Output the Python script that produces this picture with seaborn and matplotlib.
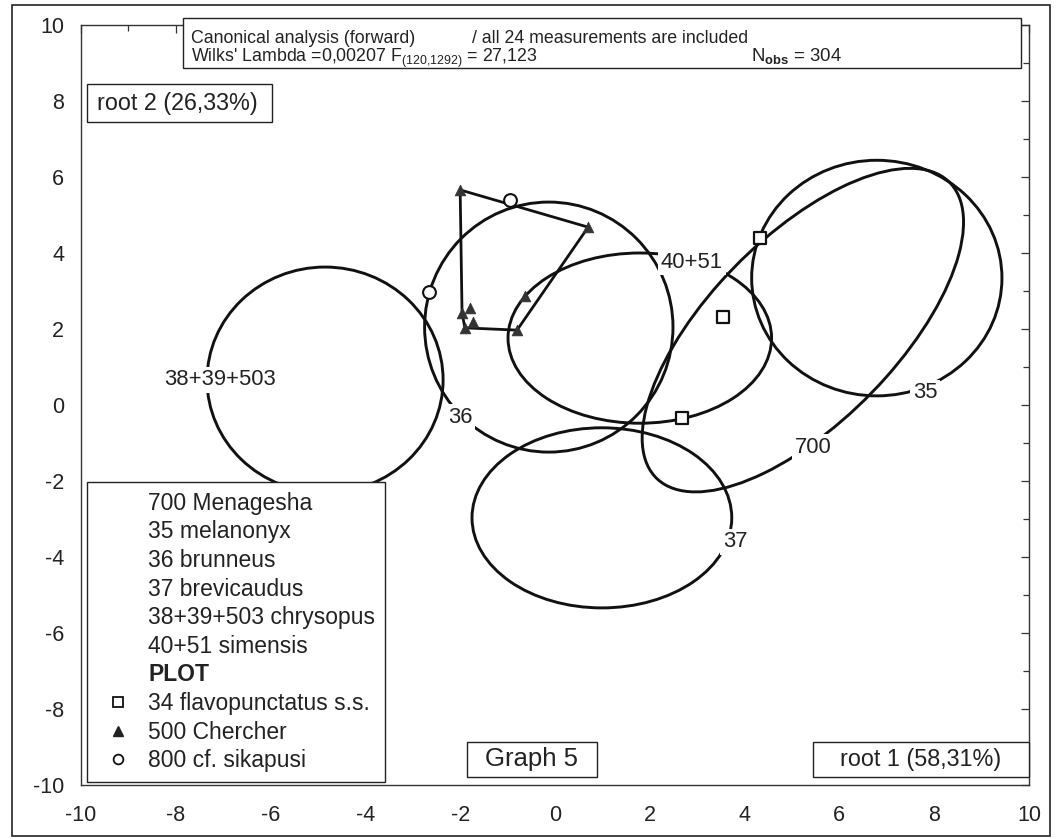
import numpy as np
import pandas as pd
import seaborn as sns
import matplotlib
matplotlib.use("Agg")
import matplotlib.pyplot as plt
from matplotlib.patches import Ellipse, Rectangle
from matplotlib.lines import Line2D
from matplotlib.ticker import MultipleLocator
from matplotlib import font_manager

# ---- data -------------------------------------------------------------
group_labels = ["700", "35", "36", "37", "38+39+503", "40+51"]
group_names = ["700 Menagesha", "35 melanonyx", "36 brunneus", "37 brevicaudus",
               "38+39+503 chrysopus", "40+51 simensis"]
ell_cx = [5.23, 6.79, -0.13, 0.99, -4.85, 1.79]
ell_cy = [1.97, 3.34, 2.05, -2.97, 0.66, 1.76]
ell_width = [10.0, 5.28, 5.24, 5.48, 4.98, 5.56]
ell_height = [4.3, 6.2, 6.58, 4.74, 5.94, 4.48]
ell_angle = [54.5, 0.0, 0.0, 0.0, 0.0, 0.0]
label_x = [5.45, 7.81, -2.0, 3.8, -7.07, 2.89]
label_y = [-1.12, 0.32, -0.32, -3.6, 0.66, 3.76]

flavo_x = [4.32, 3.54, 2.68]
flavo_y = [4.39, 2.32, -0.34]
chercher_x = [-2.0, 0.70, -0.80, -1.90, -1.73, -1.79, -1.96, -0.64]
chercher_y = [5.66, 4.68, 1.97, 2.03, 2.18, 2.55, 2.42, 2.87]
sika_x = [-0.95, -2.66]
sika_y = [5.39, 2.97]

plot_names = ["34 flavopunctatus s.s.", "500 Chercher", "800 cf. sikapusi"]
tick_values = list(range(-10, 11, 2))

# ---- style ------------------------------------------------------------
sns.set_style("white")
available = {f.name for f in font_manager.fontManager.ttflist}
BASE = "Liberation Sans"
NARROW = "Liberation Sans Narrow" if "Liberation Sans Narrow" in available else BASE
title_fs = 13.4 if NARROW != BASE else 12.8
plt.rcParams["font.family"] = [BASE, "DejaVu Sans"]
plt.rcParams["axes.unicode_minus"] = False
plt.rcParams["mathtext.fontset"] = "custom"
plt.rcParams["mathtext.rm"] = NARROW
plt.rcParams["mathtext.bf"] = NARROW + ":bold"

INK = "#111111"
TXT = "#222222"

fig = plt.figure(figsize=(10.61, 8.39), dpi=100)
ax = fig.add_axes([0.0763, 0.0644, 0.8935, 0.9058])

# ---- group ellipses with labels ---------------------------------------
for cx, cy, w, h, a in zip(ell_cx, ell_cy, ell_width, ell_height, ell_angle):
    ax.add_patch(Ellipse((cx, cy), w, h, angle=a, fill=False, ec=INK, lw=2.1, zorder=2))
for lx, ly, t in zip(label_x, label_y, group_labels):
    ax.text(lx, ly, t, ha="center", va="center", fontsize=15.8, color=TXT, zorder=4,
            bbox=dict(boxstyle="square,pad=0.12", fc="white", ec="none"))

# ---- convex hull of the Chercher sample ------------------------------
pts = sorted(set(zip(chercher_x, chercher_y)))
def _cross(o, a, b):
    return (a[0] - o[0]) * (b[1] - o[1]) - (a[1] - o[1]) * (b[0] - o[0])
lower, upper = [], []
for p in pts:
    while len(lower) >= 2 and _cross(lower[-2], lower[-1], p) <= 0:
        lower.pop()
    lower.append(p)
for p in reversed(pts):
    while len(upper) >= 2 and _cross(upper[-2], upper[-1], p) <= 0:
        upper.pop()
    upper.append(p)
hull = lower[:-1] + upper[:-1]
hull.append(hull[0])
hx, hy = zip(*hull)
ax.plot(hx, hy, color=INK, lw=2.0, zorder=3)

# ---- individual specimens --------------------------------------------
df_f = pd.DataFrame({"x": flavo_x, "y": flavo_y})
df_c = pd.DataFrame({"x": chercher_x, "y": chercher_y})
df_s = pd.DataFrame({"x": sika_x, "y": sika_y})
sns.scatterplot(data=df_f, x="x", y="y", marker="s", s=70, facecolor="white",
                edgecolor=INK, linewidth=1.6, ax=ax, zorder=5)
sns.scatterplot(data=df_c, x="x", y="y", marker="^", s=60, color="#333333",
                edgecolor="#333333", linewidth=0.5, ax=ax, zorder=5)
sns.scatterplot(data=df_s, x="x", y="y", marker="o", s=85, facecolor="white",
                edgecolor=INK, linewidth=1.5, ax=ax, zorder=5)

# ---- axes -------------------------------------------------------------
ax.set_xlim(-10, 10)
ax.set_ylim(-10, 10)
ax.set_xticks(tick_values)
ax.set_yticks(tick_values)
ax.xaxis.set_minor_locator(MultipleLocator(1))
ax.yaxis.set_minor_locator(MultipleLocator(1))
ax.tick_params(which="both", direction="in", top=True, right=True, color="#333333",
               width=0.9)
ax.tick_params(which="major", length=6, labelsize=15.5, labelcolor=TXT)
ax.tick_params(which="minor", length=4)
ax.tick_params(axis="x", which="major", pad=14.5)
ax.tick_params(axis="y", which="major", pad=12)
ax.set_xlabel("")
ax.set_ylabel("")
for sp in ax.spines.values():
    sp.set_color("#333333")
    sp.set_linewidth(1.0)

# ---- legend -----------------------------------------------------------
handles = [Line2D([], [], linestyle="none") for _ in group_names]
handles.append(Line2D([], [], linestyle="none"))
handles += [
    Line2D([], [], linestyle="none", marker="s", markersize=7, mfc="white", mec=INK, mew=1.3),
    Line2D([], [], linestyle="none", marker="^", markersize=7, mfc="#222222", mec="#222222"),
    Line2D([], [], linestyle="none", marker="o", markersize=7, mfc="white", mec=INK, mew=1.3),
]
labels = group_names + ["PLOT"] + plot_names
leg = ax.legend(handles, labels, loc="lower left", bbox_to_anchor=(0.0063, 0.004),
                borderaxespad=0, fontsize=16.5, frameon=True, fancybox=False,
                framealpha=1, edgecolor="#222222", handlelength=1.9,
                handletextpad=0.35, labelspacing=0.245, borderpad=0.42)
leg.get_frame().set_linewidth(1.0)
leg.set_zorder(10)
leg.get_texts()[6].set_fontweight("bold")
for t in leg.get_texts():
    t.set_color(TXT)

# ---- annotation boxes -------------------------------------------------
def box(x0, y0, x1, y1):
    ax.add_patch(Rectangle((x0, y0), x1 - x0, y1 - y0, transform=ax.transAxes,
                           fc="white", ec="#222222", lw=1.0, clip_on=False, zorder=9))

def note(x, y, s, **kw):
    kw.setdefault("family", NARROW)
    kw.setdefault("fontsize", title_fs)
    kw.setdefault("va", "baseline")
    kw.setdefault("ha", "left")
    ax.text(x, y, s, transform=ax.transAxes, zorder=11, color=TXT, **kw)

box(0.1076, 0.9434, 0.9916, 1.0092)
note(0.1160, 0.9763, "Canonical analysis (forward)")
note(0.4120, 0.9763, "/ all 24 measurements are included")
note(0.1160, 0.9513, r"Wilks' Lambda =0,00207 F$_{(120{,}1292)}$ = 27,123")
note(0.7072, 0.9513, r"N$_{\mathbf{obs}}$ = 304", fontsize=title_fs + 0.6)

box(0.0063, 0.8724, 0.2015, 0.9224)
note(0.0169, 0.897, "root 2 (26,33%)", family=BASE, fontsize=16.8, va="center")

box(0.4072, 0.0105, 0.5443, 0.0566)
note(0.4757, 0.0336, "Graph 5", family=BASE, fontsize=18.5, va="center", ha="center")

box(0.772, 0.0105, 1.0, 0.0566)
note(0.886, 0.0336, "root 1 (58,31%)", family=BASE, fontsize=16.8, va="center",
     ha="center")

# ---- outer frame ------------------------------------------------------
fig.add_artist(Rectangle((0.0113, 0.0036), 0.9783, 0.9904, transform=fig.transFigure,
                         fill=False, ec="#222222", lw=1.2))

fig.savefig("out.png", dpi=100, facecolor="white")
